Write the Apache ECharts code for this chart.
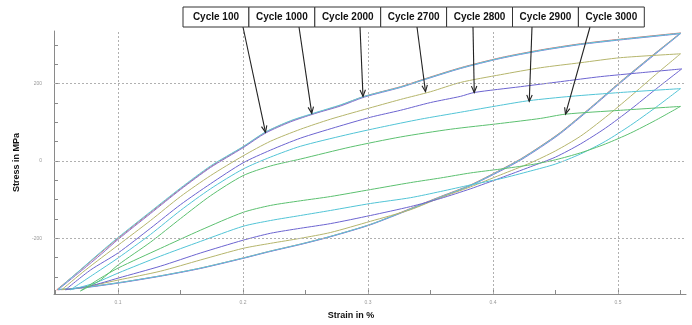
<!DOCTYPE html>
<html>
<head>
<meta charset="utf-8">
<script src="https://cdn.jsdelivr.net/npm/echarts@6/dist/echarts.min.js"></script>
<style>
  html, body { margin: 0; padding: 0; background: #fff; }
  #main { width: 692px; height: 325px; }
</style>
</head>
<body>
<div id="main"></div>
<script>
// hysteresis loops, strain in %, stress in MPa
var cycleNames = ['Cycle 100', 'Cycle 1000', 'Cycle 2000', 'Cycle 2700', 'Cycle 2800', 'Cycle 2900', 'Cycle 3000'];
var cycleColors = ['#d06a6a', '#8a72d2', '#5ccad8', '#b5b56c', '#6c64d0', '#52c4d6', '#5cc070'];

var cycle100 = [
  [0.051,-333],[0.070,-282],[0.086,-238],[0.100,-200],[0.126,-133],[0.150,-72],[0.174,-15],[0.200,36],
  [0.218,74],[0.238,103],[0.257,123],[0.278,144],[0.297,167],[0.326,192],[0.346,213],[0.374,241],
  [0.406,267],[0.438,287],[0.470,303],[0.502,315],[0.550,331],
  [0.526,269],[0.502,205],[0.478,138],[0.454,74],[0.438,38],[0.422,5],[0.406,-23],[0.382,-62],
  [0.358,-92],[0.334,-123],[0.302,-164],[0.270,-195],[0.246,-215],[0.222,-233],[0.200,-251],
  [0.166,-277],[0.134,-297],[0.100,-315],[0.070,-328],[0.051,-333]
];
var cycle1000 = [
  [0.052,-333],[0.071,-283],[0.087,-240],[0.100,-203],[0.126,-136],[0.150,-74],[0.174,-17],[0.200,34],
  [0.218,72],[0.238,101],[0.257,122],[0.278,142],[0.297,165],[0.326,190],[0.346,211],[0.374,239],
  [0.406,265],[0.438,285],[0.470,301],[0.502,313],[0.550,329],
  [0.526,266],[0.502,202],[0.478,135],[0.454,71],[0.438,35],[0.422,2],[0.406,-26],[0.382,-64],
  [0.358,-94],[0.334,-125],[0.302,-165],[0.270,-196],[0.246,-216],[0.222,-234],[0.200,-252],
  [0.166,-278],[0.134,-298],[0.100,-316],[0.070,-329],[0.052,-333]
];
var cycle2000 = [
  [0.052,-332],[0.070,-281],[0.086,-236],[0.100,-198],[0.126,-131],[0.150,-70],[0.174,-13],[0.200,37],
  [0.218,75],[0.238,104],[0.257,124],[0.278,145],[0.297,167],[0.326,191],[0.346,212],[0.374,240],
  [0.406,266],[0.438,286],[0.470,302],[0.502,314],[0.550,330],
  [0.526,268],[0.502,204],[0.478,137],[0.454,73],[0.438,37],[0.422,4],[0.406,-24],[0.382,-63],
  [0.358,-93],[0.334,-124],[0.302,-164],[0.270,-195],[0.246,-215],[0.222,-233],[0.200,-251],
  [0.166,-277],[0.134,-297],[0.100,-315],[0.070,-328],[0.052,-332]
];
var cycle2700 = [
  [0.055,-333],[0.074,-282],[0.100,-218],[0.126,-154],[0.150,-92],[0.174,-38],[0.200,13],[0.222,51],
  [0.246,82],[0.270,108],[0.297,133],[0.326,159],[0.350,179],[0.374,203],[0.406,223],[0.438,241],
  [0.470,254],[0.502,267],[0.550,277],
  [0.530,223],[0.510,167],[0.490,113],[0.470,64],[0.450,26],[0.430,-5],[0.406,-36],[0.382,-67],
  [0.358,-95],[0.334,-126],[0.302,-156],[0.270,-185],[0.246,-200],[0.222,-213],[0.200,-226],
  [0.166,-256],[0.134,-285],[0.100,-308],[0.070,-328],[0.055,-333]
];
var cycle2800 = [
  [0.058,-333],[0.078,-282],[0.100,-238],[0.126,-174],[0.150,-113],[0.174,-59],[0.200,-5],[0.222,28],
  [0.246,59],[0.274,87],[0.302,113],[0.326,131],[0.350,151],[0.374,167],[0.385,177],[0.422,192],
  [0.454,205],[0.486,218],[0.518,228],[0.551,238],
  [0.530,185],[0.510,133],[0.490,85],[0.470,44],[0.450,10],[0.430,-15],[0.406,-44],[0.382,-72],
  [0.358,-97],[0.334,-118],[0.302,-141],[0.270,-162],[0.246,-174],[0.222,-187],[0.200,-205],
  [0.166,-238],[0.134,-272],[0.100,-303],[0.078,-323],[0.058,-333]
];
var cycle2900 = [
  [0.062,-333],[0.082,-290],[0.100,-251],[0.126,-190],[0.150,-128],[0.174,-72],[0.200,-21],[0.222,10],
  [0.246,38],[0.282,67],[0.310,87],[0.342,108],[0.374,126],[0.406,144],[0.429,156],[0.462,167],
  [0.502,177],[0.550,187],
  [0.530,138],[0.510,92],[0.490,51],[0.470,18],[0.450,-8],[0.430,-26],[0.406,-46],[0.382,-62],
  [0.358,-79],[0.334,-95],[0.302,-110],[0.270,-128],[0.246,-141],[0.222,-154],[0.200,-169],
  [0.166,-208],[0.134,-246],[0.100,-290],[0.082,-315],[0.062,-333]
];
var cycle3000 = [
  [0.070,-336],[0.086,-308],[0.100,-269],[0.126,-210],[0.150,-149],[0.174,-90],[0.200,-38],[0.222,-13],
  [0.246,5],[0.286,36],[0.326,62],[0.366,82],[0.406,97],[0.438,110],[0.458,121],[0.502,131],[0.550,141],
  [0.530,105],[0.510,72],[0.490,44],[0.470,21],[0.450,3],[0.430,-10],[0.406,-21],[0.382,-31],
  [0.358,-44],[0.334,-56],[0.302,-74],[0.270,-92],[0.246,-103],[0.222,-115],[0.200,-133],
  [0.166,-179],[0.134,-226],[0.100,-277],[0.086,-303],[0.070,-336]
];
var cycles = [cycle100, cycle1000, cycle2000, cycle2700, cycle2800, cycle2900, cycle3000];

// where each label's arrow points (strain, stress)
var arrowTips = [[0.218,74],[0.255,123],[0.296,167],[0.346,179],[0.385,177],[0.429,154],[0.458,121]];

var strainTicks = [0.05,0.1,0.15,0.2,0.25,0.3,0.35,0.4,0.45,0.5,0.55];
var strainLabels = [0.1,0.2,0.3,0.4,0.5];
var stressTicks = [-300,-250,-200,-150,-100,-50,0,50,100,150,200,250,300];
var stressLabels = [-200,0,200];

var chart = echarts.init(document.getElementById('main'));

var series = cycles.map(function (d, i) {
  return {
    name: cycleNames[i],
    type: 'line',
    data: d,
    showSymbol: false,
    smooth: 0.25,
    z: 3,
    lineStyle: { width: 1, color: cycleColors[i] }
  };
});
// dotted grid lines
series.unshift({
  type: 'line',
  data: [],
  z: 1,
  silent: true,
  markLine: {
    silent: true,
    symbol: 'none',
    label: { show: false },
    lineStyle: { color: '#b0b0b0', type: [2, 2], width: 1 },
    data: strainLabels.map(function (v) { return { xAxis: v }; })
      .concat(stressLabels.map(function (v) { return { yAxis: v }; }))
  }
});

var option = {
  animation: false,
  grid: { left: 54, right: 6, top: 31, bottom: 29 },
  xAxis: {
    type: 'value',
    min: 0.0488,
    max: 0.5544,
    name: 'Strain in %',
    nameLocation: 'middle',
    nameGap: 17,
    nameTextStyle: { fontFamily: 'Liberation Sans', fontWeight: 'bold', fontSize: 9, color: '#111', padding: [0, 38, 0, 0] },
    axisLine: { onZero: false, lineStyle: { color: '#8a8a8a' } },
    axisTick: { inside: true, length: 4, customValues: strainTicks, lineStyle: { color: '#8a8a8a' } },
    axisLabel: { customValues: strainLabels, fontSize: 5, color: '#999', margin: 6 },
    splitLine: { show: false }
  },
  yAxis: {
    type: 'value',
    min: -344,
    max: 336,
    name: 'Stress in MPa',
    nameLocation: 'middle',
    nameGap: 33,
    nameTextStyle: { fontFamily: 'Liberation Sans', fontWeight: 'bold', fontSize: 9, color: '#111' },
    axisLine: { show: true, onZero: false, lineStyle: { color: '#8a8a8a' } },
    axisTick: { show: true, inside: true, length: 4, customValues: stressTicks, lineStyle: { color: '#8a8a8a' } },
    axisLabel: { customValues: stressLabels, fontSize: 5, color: '#999', margin: 12 },
    splitLine: { show: false }
  },
  series: series
};
chart.setOption(option);

// label boxes with arrows
var boxLeft = 183, boxW = 65.9, boxTop = 7, boxH = 20;
var arrowStartX = [243, 299, 360, 417, 473, 532, 590];
var graphics = [];
cycleNames.forEach(function (name, i) {
  graphics.push({
    type: 'rect',
    shape: { x: boxLeft + i * boxW, y: boxTop, width: boxW, height: boxH },
    style: { fill: '#fff', stroke: '#333', lineWidth: 1 },
    z: 10
  });
  graphics.push({
    type: 'text',
    x: boxLeft + i * boxW + boxW / 2,
    y: boxTop + boxH / 2 + 0.5,
    style: {
      text: name, fill: '#111', font: 'bold 10px "Liberation Sans", Arial, sans-serif',
      align: 'center', verticalAlign: 'middle'
    },
    z: 11
  });
  var tip = chart.convertToPixel({ gridIndex: 0 }, arrowTips[i]);
  var sx = arrowStartX[i], sy = boxTop + boxH;
  var ang = Math.atan2(tip[1] - sy, tip[0] - sx);
  var hl = 7, ha = 0.4;
  graphics.push({
    type: 'line',
    shape: { x1: sx, y1: sy, x2: tip[0], y2: tip[1] },
    style: { stroke: '#222', lineWidth: 1.1 },
    z: 9
  });
  graphics.push({
    type: 'polyline',
    shape: { points: [
      [tip[0] - hl * Math.cos(ang - ha), tip[1] - hl * Math.sin(ang - ha)],
      [tip[0], tip[1]],
      [tip[0] - hl * Math.cos(ang + ha), tip[1] - hl * Math.sin(ang + ha)]
    ] },
    style: { stroke: '#222', lineWidth: 1.1, fill: null },
    z: 9
  });
});
chart.setOption({ graphic: graphics });
</script>
</body>
</html>
